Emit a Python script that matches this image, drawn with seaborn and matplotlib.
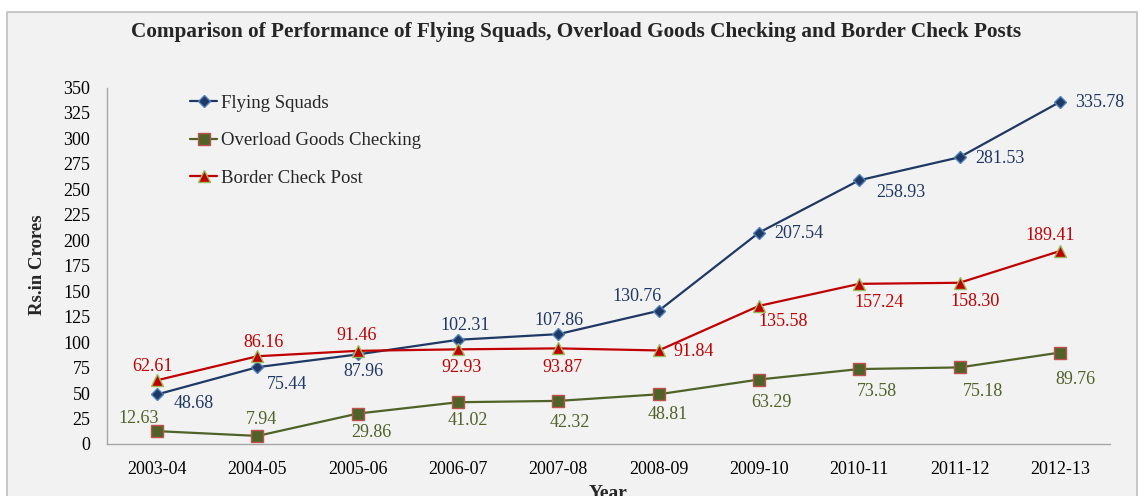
import matplotlib
matplotlib.use("Agg")
import matplotlib.pyplot as plt
from matplotlib.patches import Rectangle
import seaborn as sns
import pandas as pd

years = ['2003-04', '2004-05', '2005-06', '2006-07', '2007-08',
         '2008-09', '2009-10', '2010-11', '2011-12', '2012-13']
flying_squads = [48.68, 75.44, 87.96, 102.31, 107.86, 130.76, 207.54, 258.93, 281.53, 335.78]
overload_goods = [12.63, 7.94, 29.86, 41.02, 42.32, 48.81, 63.29, 73.58, 75.18, 89.76]
border_check = [62.61, 86.16, 91.46, 92.93, 93.87, 91.84, 135.58, 157.24, 158.30, 189.41]

# label offsets in pixels (dx, dy) for each point
fs_off = [(37, -9), (30, -17), (6, -17), (7, 14), (1, 14), (-22, 14), (40, -1), (42, -12), (40, -1), (40, -1)]
og_off = [(-18, 13), (4, 16), (14, -19), (10, -18), (11, -22), (9, -20), (12, -23), (18, -22), (23, -24), (16, -27)]
bc_off = [(-5, 14), (6, 14), (-1, 15), (4, -18), (4, -19), (35, -1), (24, -16), (20, -19), (15, -19), (-10, 16)]

sns.set_style('white')
plt.rcParams['font.family'] = ['Liberation Serif', 'DejaVu Serif']

fig = plt.figure(figsize=(11.39, 4.96), dpi=100)
fig.patches.append(Rectangle((7 / 1139, -0.05), 1130 / 1139, 1.05 - 12 / 496,
                             transform=fig.transFigure, facecolor='#f2f2f2',
                             edgecolor='#bfbfbf', linewidth=1.2, zorder=-10))
ax = fig.add_axes([107 / 1139, 1 - 444 / 496, 1003 / 1139, 356.5 / 496])
ax.set_facecolor('none')

df = pd.DataFrame({'Year': years, 'fs': flying_squads, 'og': overload_goods, 'bc': border_check})
x = list(range(len(years)))

series = [
    ('fs', 'Flying Squads', '#1f3864', 'D', '#1f3864', '#4f81bd', 6, '#1f3864', fs_off),
    ('og', 'Overload Goods Checking', '#4f6228', 's', '#4f6228', '#c0504d', 8, '#4f6228', og_off),
    ('bc', 'Border Check Post', '#c00000', '^', '#c00000', '#9bbb59', 8, '#c00000', bc_off),
]
for col, name, lc, mk, mfc, mec, ms, tc, offs in series:
    sns.lineplot(x=x, y=df[col], ax=ax, color=lc, marker=mk, markerfacecolor=mfc,
                 markeredgecolor=mec, markersize=ms, markeredgewidth=1, linewidth=1.6,
                 label=name)
    for i, v in enumerate(df[col]):
        ax.annotate('{0:.2f}'.format(v), (x[i], v), xytext=offs[i], textcoords='offset pixels',
                    ha='center', va='center', fontsize=13, color=tc)

ax.set_xlim(-0.5, len(years) - 0.5)
ax.set_ylim(0, 350)
ax.set_yticks(range(0, 351, 25))
ax.set_xticks(x)
ax.set_xticklabels(years)
ax.tick_params(axis='both', length=0, labelsize=13, colors='black')
ax.tick_params(axis='x', pad=12)
ax.tick_params(axis='y', pad=12)
for s in ['top', 'right']:
    ax.spines[s].set_visible(False)
for s in ['left', 'bottom']:
    ax.spines[s].set_color('#a6a6a6')
    ax.spines[s].set_linewidth(1)

ax.set_xlabel('')
ax.set_ylabel('')
leg = ax.legend(loc='upper left', bbox_to_anchor=(0.066, 1.027), frameon=False,
                fontsize=13.5, labelspacing=1.08, handlelength=1.45, handletextpad=0.2)

fig.text(0.506, 1 - 32 / 496, 'Comparison of Performance of Flying Squads, Overload Goods Checking and Border Check Posts',
         ha='center', va='center', fontsize=15.3, fontweight='bold')
fig.text(37 / 1139, 1 - 265 / 496, 'Rs.in Crores', rotation=90, ha='center', va='center',
         fontsize=13.5, fontweight='bold')
fig.text(608 / 1139, 1 - 493 / 496, 'Year', ha='center', va='center', fontsize=14, fontweight='bold')

fig.savefig('out.png', dpi=100, facecolor='white')
